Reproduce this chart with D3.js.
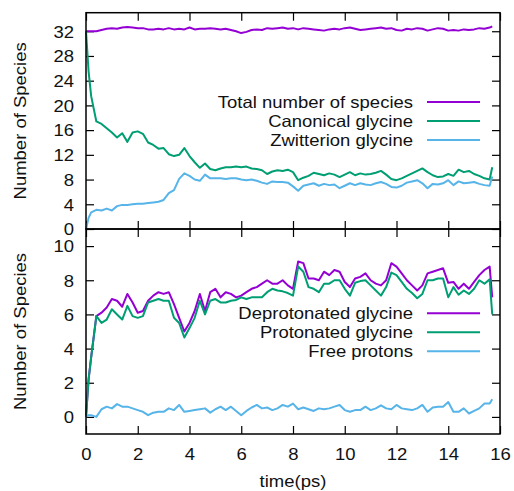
<!DOCTYPE html>
<html><head><meta charset="utf-8">
<script src="https://cdn.jsdelivr.net/npm/d3@7"></script>
<style>
body{margin:0;background:#fff}
text{font-family:"Liberation Sans",Arial,Helvetica,sans-serif;fill:#111}
</style>
</head><body>
<svg id="chart" width="514" height="491"></svg>
<script>
// ---------- data ----------
const times = [0, 0.1, 0.2, 0.4, 0.6, 0.8, 1.0, 1.2, 1.4, 1.6,
  1.8, 2.0, 2.2, 2.4, 2.6, 2.8, 3.0, 3.2, 3.4, 3.6,
  3.8, 4.0, 4.2, 4.4, 4.6, 4.8, 5.0, 5.2, 5.4, 5.6,
  5.8, 6.0, 6.2, 6.4, 6.6, 6.8, 7.0, 7.2, 7.4, 7.6,
  7.8, 8.0, 8.2, 8.4, 8.6, 8.8, 9.0, 9.2, 9.4, 9.6,
  9.8, 10.0, 10.2, 10.4, 10.6, 10.8, 11.0, 11.2, 11.4, 11.6,
  11.8, 12.0, 12.2, 12.4, 12.6, 12.8, 13.0, 13.2, 13.4, 13.6,
  13.8, 14.0, 14.2, 14.4, 14.6, 14.8, 15.0, 15.2, 15.4, 15.6,
  15.7];

const totalSpecies = [32.0, 32.0, 32.0, 32.0, 32.2, 32.4, 32.5, 32.4, 32.6, 32.7,
  32.6, 32.5, 32.5, 32.3, 32.3, 32.4, 32.3, 32.5, 32.3, 32.4,
  32.3, 32.6, 32.3, 32.4, 32.4, 32.5, 32.4, 32.3, 32.4, 32.2,
  32.0, 31.7, 31.9, 32.2, 32.3, 32.2, 32.5, 32.4, 32.5, 32.6,
  32.4, 32.5, 32.3, 32.5, 32.4, 32.3, 32.2, 32.1, 32.3, 32.4,
  32.3, 32.5, 32.6, 32.4, 32.2, 32.3, 32.4, 32.5, 32.6, 32.4,
  32.5, 32.2, 32.1, 32.4, 32.3, 32.5, 32.4, 32.1, 32.3, 32.5,
  32.4, 32.1, 32.2, 32.1, 32.3, 32.2, 32.3, 32.5, 32.4, 32.6,
  32.8];

const canonicalGlycine = [32.0, 25.5, 21.5, 17.4, 17.0, 16.3, 15.6, 14.8, 15.5, 14.1,
  15.6, 15.8, 15.4, 14.0, 13.6, 13.0, 13.1, 12.1, 11.8, 12.0,
  13.1, 11.8, 10.8, 9.9, 10.6, 9.7, 9.5, 9.8, 10.0, 10.0,
  10.1, 10.0, 10.1, 9.8, 9.7, 9.5, 8.9, 9.3, 9.5, 9.4,
  9.6, 9.2, 7.9, 8.3, 8.6, 9.1, 8.9, 8.7, 9.0, 8.8,
  8.4, 8.8, 9.2, 8.7, 9.0, 8.8, 8.9, 9.1, 9.4, 8.8,
  8.1, 7.9, 8.2, 8.6, 9.0, 9.4, 9.8, 9.2, 8.7, 8.4,
  8.5, 8.9, 8.6, 9.6, 9.2, 9.4, 8.9, 8.6, 8.2, 8.0,
  10.0];

const zwitterionGlycine = [0.0, 1.8, 2.7, 3.1, 3.0, 3.3, 3.0, 3.7, 3.9, 3.9,
  4.0, 4.1, 4.1, 4.2, 4.3, 4.4, 4.7, 5.8, 6.3, 8.1,
  9.0, 8.6, 8.0, 7.8, 8.8, 8.2, 8.2, 8.2, 8.1, 8.2,
  8.2, 8.0, 7.9, 8.0, 7.8, 7.5, 7.3, 7.7, 7.6, 7.6,
  7.5, 6.9, 6.2, 7.0, 7.2, 7.4, 7.0, 7.3, 7.1, 7.2,
  6.6, 7.0, 7.4, 7.1, 7.4, 7.2, 7.1, 7.4, 7.6, 7.3,
  6.8, 6.7, 7.0, 7.5, 7.7, 7.9, 7.4, 6.6, 7.3, 7.2,
  7.4, 7.9, 7.1, 7.7, 7.4, 7.5, 7.6, 7.3, 7.1, 7.0,
  8.5];

const deprotonatedGlycine = [0, 2.2, 3.5, 5.9, 6.1, 6.4, 6.9, 6.8, 6.45, 7.2,
  6.7, 6.1, 6.2, 6.8, 7.1, 7.3, 7.2, 7.3, 6.6, 5.8,
  5.0, 5.5, 6.2, 7.2, 6.2, 7.3, 7.5, 7.0, 7.3, 7.2,
  7.0, 7.1, 7.3, 7.5, 7.6, 7.8, 8.0, 7.8, 7.8, 8.0,
  7.7, 7.5, 9.1, 9.0, 8.1, 8.1, 8.0, 8.5, 8.3, 8.6,
  8.5, 7.9, 7.6, 8.1, 8.2, 8.4, 8.0, 7.8, 7.7, 8.0,
  9.0, 8.8, 8.4, 8.0, 7.7, 7.4, 7.7, 8.4, 8.5, 8.6,
  8.7, 7.85, 7.9, 7.5, 7.8, 7.5, 7.9, 8.3, 8.6, 8.8,
  7.0];

const protonatedGlycine = [0, 2.2, 3.5, 5.9, 5.5, 5.7, 6.3, 6.0, 5.7, 6.5,
  5.9, 5.8, 5.9, 6.7, 6.8, 6.9, 6.8, 6.8, 5.8, 5.5,
  4.65, 5.2, 5.8, 6.8, 6.0, 6.8, 6.9, 6.7, 6.7, 6.8,
  6.85, 7.0, 6.9, 7.0, 7.0, 7.0, 7.3, 7.5, 7.4, 7.35,
  7.25, 7.1, 8.8, 8.5, 7.6, 7.5, 7.3, 7.8, 7.8, 8.0,
  8.0, 7.5, 7.1, 7.85, 7.95, 8.0, 7.7, 7.4, 7.1, 7.6,
  8.45, 8.3, 7.9, 7.5, 7.25, 6.95, 7.2, 8.0, 8.0, 8.1,
  8.1, 7.0, 7.6, 7.15, 7.4, 7.2, 7.5, 8.0, 7.8, 8.05,
  6.0];

const freeProtons = [0.0, 0.1, 0.1, 0.0, 0.45, 0.6, 0.5, 0.75, 0.6, 0.6,
  0.5, 0.4, 0.3, 0.1, 0.25, 0.3, 0.3, 0.5, 0.4, 0.7,
  0.3, 0.35, 0.4, 0.45, 0.5, 0.25, 0.45, 0.6, 0.4, 0.6,
  0.35, 0.1, 0.35, 0.55, 0.7, 0.5, 0.55, 0.4, 0.5, 0.7,
  0.6, 0.78, 0.45, 0.55, 0.45, 0.35, 0.5, 0.45, 0.5, 0.6,
  0.7, 0.4, 0.3, 0.4, 0.4, 0.6, 0.4, 0.5, 0.68, 0.5,
  0.45, 0.7, 0.5, 0.45, 0.4, 0.5, 0.7, 0.3, 0.55, 0.6,
  0.6, 0.87, 0.3, 0.3, 0.5, 0.2, 0.35, 0.5, 0.78, 0.78,
  1.03];

const xTicks = [0, 2, 4, 6, 8, 10, 12, 14, 16];
const topYTicks = [0, 4, 8, 12, 16, 20, 24, 28, 32];
const bottomYTicks = [0, 2, 4, 6, 8, 10];
const topLegend = ["Total number of species", "Canonical glycine", "Zwitterion glycine"];
const bottomLegend = ["Deprotonated glycine", "Protonated glycine", "Free protons"];
const seriesColors = ["#9400d3", "#009e73", "#56b4e9"];
const xLabel = "time(ps)";
const yLabel = "Number of Species";

// ---------- layout ----------
const L = 86, R = 500, T = 12.7, M = 229, B = 434;
const FS = 18.5, SQ = 0.88;
const svg = d3.select("#chart");

const x = d3.scaleLinear().domain([0, 16]).range([L, R]);
const yTop = d3.scaleLinear().domain([0, 35]).range([M, T]);
const yBot = d3.scaleLinear().domain([-1, 11]).range([B, M]);

function styleAxis(g, labels, kind) {
  g.select(".domain").remove();
  g.selectAll(".tick line").attr("stroke", "#000").attr("stroke-width", 1.2);
  const txt = g.selectAll(".tick text");
  if (!labels) { txt.remove(); return; }
  txt.attr("font-size", FS).attr("fill", "#111").attr("dy", null).attr("x", null).attr("y", null)
    .attr("font-family", '"Liberation Sans", Arial, sans-serif');
  if (kind === "left") {
    txt.attr("text-anchor", "end").attr("transform", `translate(-12,${(FS*0.716*SQ/2).toFixed(2)}) scale(1,${SQ})`);
  } else {
    txt.attr("text-anchor", "middle").attr("transform", `translate(0,${(14 + FS*0.716*SQ).toFixed(2)}) scale(1,${SQ})`);
  }
}

function panel(yScale, yTicks, series, names, legendLineY, hasXLabels) {
  // left / right
  svg.append("g").attr("transform", `translate(${L},0)`)
    .call(d3.axisLeft(yScale).tickValues(yTicks).tickSizeInner(-8).tickSizeOuter(0).tickPadding(12))
    .call(g => styleAxis(g, true, "left"));
  svg.append("g").attr("transform", `translate(${R},0)`)
    .call(d3.axisRight(yScale).tickValues(yTicks).tickSizeInner(-8).tickSizeOuter(0))
    .call(g => styleAxis(g, false));
  const [yb, yt] = yScale.range();
  svg.append("g").attr("transform", `translate(0,${yt})`)
    .call(d3.axisTop(x).tickValues(xTicks).tickSizeInner(-8).tickSizeOuter(0))
    .call(g => styleAxis(g, false));
  svg.append("g").attr("transform", `translate(0,${yb})`)
    .call(d3.axisBottom(x).tickValues(xTicks).tickSizeInner(-8).tickSizeOuter(0).tickPadding(14))
    .call(g => styleAxis(g, hasXLabels, "bottom"));

  const line = d3.line().x((d, i) => x(times[i])).y(d => yScale(d));
  series.forEach((s, k) => {
    svg.append("path").datum(s).attr("d", line).attr("fill", "none")
      .attr("stroke", seriesColors[k]).attr("stroke-width", 2).attr("stroke-linejoin", "round");
  });

  names.forEach((n, k) => {
    const ly = legendLineY + k * 19;
    svg.append("text").attr("text-anchor", "end").attr("font-size", FS)
      .attr("transform", `translate(413,${ly + 5.5}) scale(1,${SQ})`).text(n);
    svg.append("line").attr("x1", 427).attr("x2", 480).attr("y1", ly).attr("y2", ly)
      .attr("stroke", seriesColors[k]).attr("stroke-width", 2);
  });

  svg.append("rect").attr("x", L).attr("y", yt).attr("width", R - L).attr("height", yb - yt)
    .attr("fill", "none").attr("stroke", "#000").attr("stroke-width", 1.5);

  svg.append("text").attr("text-anchor", "middle").attr("font-size", FS)
    .attr("transform", `translate(25.5,${(yb + yt) / 2}) rotate(-90) scale(1,${SQ})`).text(yLabel);
}

panel(yTop, topYTicks, [totalSpecies, canonicalGlycine, zwitterionGlycine], topLegend, 102, false);
panel(yBot, bottomYTicks, [deprotonatedGlycine, protonatedGlycine, freeProtons], bottomLegend, 313.3, true);

svg.append("text").attr("text-anchor", "middle").attr("font-size", FS)
  .attr("transform", `translate(${(L + R) / 2},487) scale(1,${SQ})`).text(xLabel);
</script>
</body></html>
